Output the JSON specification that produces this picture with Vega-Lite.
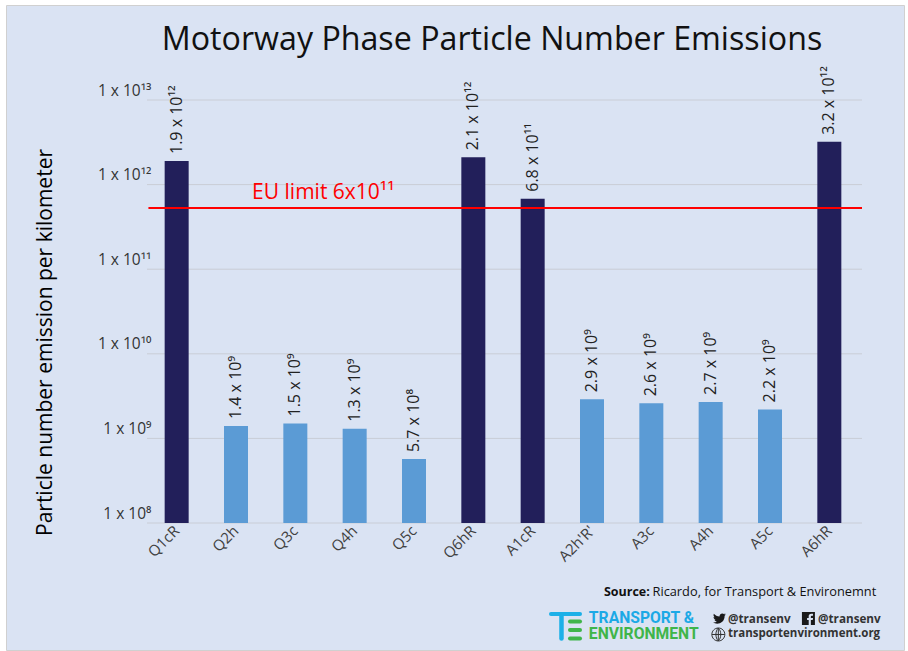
{"$schema":"https://vega.github.io/schema/vega-lite/v6.json","width":898,"height":645,"autosize":"none","padding":{"left":6,"top":5,"right":4,"bottom":1},"background":"#ffffff","view":{"fill":"#DAE3F3","stroke":"#d0d0d0"},"title":{"text":"Motorway Phase Particle Number Emissions","font":"Open Sans","fontSize":32.2,"fontWeight":"normal","color":"#111111","anchor":"middle","dx":37,"offset":-52},
"datasets":{"bars":[{"phase":"Q1cR","value":1.9e12,"label":"1.9 x 10¹²","group":"high"},{"phase":"Q2h","value":1.4e9,"label":"1.4 x 10⁹","group":"low"},{"phase":"Q3c","value":1.5e9,"label":"1.5 x 10⁹","group":"low"},{"phase":"Q4h","value":1.3e9,"label":"1.3 x 10⁹","group":"low"},{"phase":"Q5c","value":5.7e8,"label":"5.7 x 10⁸","group":"low"},{"phase":"Q6hR","value":2.1e12,"label":"2.1 x 10¹²","group":"high"},{"phase":"A1cR","value":6.8e11,"label":"6.8 x 10¹¹","group":"high"},{"phase":"A2h'R'","value":2.9e9,"label":"2.9 x 10⁹","group":"low"},{"phase":"A3c","value":2.6e9,"label":"2.6 x 10⁹","group":"low"},{"phase":"A4h","value":2.7e9,"label":"2.7 x 10⁹","group":"low"},{"phase":"A5c","value":2.2e9,"label":"2.2 x 10⁹","group":"low"},{"phase":"A6hR","value":3.2e12,"label":"3.2 x 10¹²","group":"high"}],"grid":[{"g":1e8,"from":0,"to":1},{"g":1e9,"from":0,"to":1},{"g":1e10,"from":0,"to":1},{"g":1e11,"from":0,"to":1},{"g":1e12,"from":0,"to":1},{"g":1e13,"from":0,"to":1}]},
"resolve":{"scale":{"x":"independent"},"axis":{"x":"independent"}},
"layer":[
{"data":{"name":"grid"},"mark":{"type":"rule","color":"#C9CDD6","strokeWidth":1},"encoding":{"x":{"field":"from","type":"quantitative","axis":null,"scale":{"domain":[0,1],"range":[141,856]}},"x2":{"field":"to"},"y":{"field":"g","type":"quantitative","scale":{"type":"log","domain":[1e8,1e13],"range":[518,95]},"axis":{"title":"Particle number emission per kilometer","titleFont":"Open Sans","titleFontSize":21,"titleFontWeight":"normal","titleColor":"#000000","titleX":-92,"titleY":337,"offset":-141,"grid":false,"domain":false,"ticks":false,"values":[1e8,1e9,1e10,1e11,1e12,1e13],"labelExpr":"{'8':'1 x 10⁸','9':'1 x 10⁹','10':'1 x 10¹⁰','11':'1 x 10¹¹','12':'1 x 10¹²','13':'1 x 10¹³'}[round(log(datum.value)/LN10)]","labelFont":"Open Sans","labelFontSize":15.5,"labelColor":"#333333","labelPadding":-4,"labelOffset":-10}}}},
{"data":{"name":"bars"},"mark":{"type":"bar","size":24},"encoding":{"x":{"field":"phase","type":"nominal","sort":null,"scale":{"type":"band","range":[141,853],"padding":0},"axis":{"title":null,"domain":false,"ticks":false,"offset":-127,"labelAngle":-45,"labelAlign":"right","labelBaseline":"middle","labelFont":"Open Sans","labelFontSize":15,"labelColor":"#404040","labelPadding":5}},"y":{"field":"value","type":"quantitative","stack":null},"y2":{"datum":1e8},"color":{"field":"group","type":"nominal","legend":null,"scale":{"domain":["high","low"],"range":["#221F5A","#5B9BD5"]}}}},
{"data":{"name":"bars"},"mark":{"type":"text","angle":270,"align":"left","baseline":"middle","font":"Open Sans","fontSize":16,"color":"#222222","dx":7},"encoding":{"x":{"field":"phase","type":"nominal","sort":null,"scale":{"type":"band","range":[141,853],"padding":0},"axis":null},"y":{"field":"value","type":"quantitative","stack":null},"text":{"field":"label"}}},
{"data":{"values":[{"limit":5.3e11,"from":0.002,"to":1}]},"mark":{"type":"rule","color":"#FF0000","strokeWidth":2},"encoding":{"x":{"field":"from","type":"quantitative","axis":null,"scale":{"domain":[0,1],"range":[141,856]}},"x2":{"field":"to"},"y":{"field":"limit","type":"quantitative"}}},
{"data":{"values":[{"limit":5.3e11,"note":"EU limit 6x10¹¹","at":0.147}]},"mark":{"type":"text","align":"left","baseline":"middle","font":"Open Sans","fontSize":21,"color":"#FF0000","dy":-15},"encoding":{"x":{"field":"at","type":"quantitative","axis":null,"scale":{"domain":[0,1],"range":[141,856]}},"y":{"field":"limit","type":"quantitative"},"text":{"field":"note"}}},
{"data":{"values":[{}]},"mark":{"type":"text","align":"left","baseline":"middle","font":"Open Sans","fontSize":12.5,"fontWeight":"bold","color":"#111111"},"encoding":{"x":{"datum":0.639,"type":"quantitative","axis":null,"scale":{"domain":[0,1],"range":[141,856]}},"y":{"datum":1.53e7,"type":"quantitative"},"text":{"value":"Source:"}}},
{"data":{"values":[{}]},"mark":{"type":"text","align":"left","baseline":"middle","font":"Open Sans","fontSize":12.8,"color":"#111111"},"encoding":{"x":{"datum":0.707,"type":"quantitative","axis":null,"scale":{"domain":[0,1],"range":[141,856]}},"y":{"datum":1.53e7,"type":"quantitative"},"text":{"value":"Ricardo, for Transport & Environemnt"}}},
{"data":{"values":[{}]},"mark":{"type":"rule","color":"#1CB0E8","strokeWidth":4,"strokeCap":"round"},"encoding":{"x":{"datum":0.565,"type":"quantitative","axis":null,"scale":{"domain":[0,1],"range":[141,856]}},"x2":{"datum":0.6056},"y":{"datum":8.4e6,"type":"quantitative"}}},
{"data":{"values":[{}]},"mark":{"type":"rule","color":"#1CB0E8","strokeWidth":4.5,"strokeCap":"round"},"encoding":{"x":{"datum":0.5797,"type":"quantitative","axis":null,"scale":{"domain":[0,1],"range":[141,856]}},"y":{"datum":7.96e6,"type":"quantitative"},"y2":{"datum":4.3e6}}},
{"data":{"values":[{}]},"mark":{"type":"rule","color":"#3FB54A","strokeWidth":4,"strokeCap":"round"},"encoding":{"x":{"datum":0.5916,"type":"quantitative","axis":null,"scale":{"domain":[0,1],"range":[141,856]}},"x2":{"datum":0.6056},"y":{"datum":6.85e6,"type":"quantitative"}}},
{"data":{"values":[{}]},"mark":{"type":"rule","color":"#3FB54A","strokeWidth":4,"strokeCap":"round"},"encoding":{"x":{"datum":0.5916,"type":"quantitative","axis":null,"scale":{"domain":[0,1],"range":[141,856]}},"x2":{"datum":0.6056},"y":{"datum":5.43e6,"type":"quantitative"}}},
{"data":{"values":[{}]},"mark":{"type":"rule","color":"#3FB54A","strokeWidth":4,"strokeCap":"round"},"encoding":{"x":{"datum":0.5916,"type":"quantitative","axis":null,"scale":{"domain":[0,1],"range":[141,856]}},"x2":{"datum":0.6056},"y":{"datum":4.31e6,"type":"quantitative"}}},
{"data":{"values":[{}]},"mark":{"type":"text","align":"left","baseline":"middle","font":"Roboto","fontSize":15.7,"fontWeight":"bold","color":"#1CA9E6"},"encoding":{"x":{"datum":0.618,"type":"quantitative","axis":null,"scale":{"domain":[0,1],"range":[141,856]}},"y":{"datum":7.5e6,"type":"quantitative"},"text":{"value":"TRANSPORT &"}}},
{"data":{"values":[{}]},"mark":{"type":"text","align":"left","baseline":"middle","font":"Roboto","fontSize":15.7,"fontWeight":"bold","color":"#3FB54A"},"encoding":{"x":{"datum":0.618,"type":"quantitative","axis":null,"scale":{"domain":[0,1],"range":[141,856]}},"y":{"datum":4.87e6,"type":"quantitative"},"text":{"value":"ENVIRONMENT"}}},
{"data":{"values":[{}]},"mark":{"type":"text","align":"left","baseline":"middle","font":"Open Sans","fontSize":11.7,"fontWeight":"bold","color":"#333333"},"encoding":{"x":{"datum":0.8126,"type":"quantitative","axis":null,"scale":{"domain":[0,1],"range":[141,856]}},"y":{"datum":7.43e6,"type":"quantitative"},"text":{"value":"@transenv"}}},
{"data":{"values":[{}]},"mark":{"type":"text","align":"left","baseline":"middle","font":"Open Sans","fontSize":11.7,"fontWeight":"bold","color":"#333333"},"encoding":{"x":{"datum":0.9385,"type":"quantitative","axis":null,"scale":{"domain":[0,1],"range":[141,856]}},"y":{"datum":7.43e6,"type":"quantitative"},"text":{"value":"@transenv"}}},
{"data":{"values":[{}]},"mark":{"type":"text","align":"left","baseline":"middle","font":"Open Sans","fontSize":11.5,"fontWeight":"bold","color":"#333333"},"encoding":{"x":{"datum":0.8126,"type":"quantitative","axis":null,"scale":{"domain":[0,1],"range":[141,856]}},"y":{"datum":4.87e6,"type":"quantitative"},"text":{"value":"transportenvironment.org"}}},
{"data":{"values":[{}]},"mark":{"type":"point","filled":true,"size":1.17,"color":"#1A1A1A","opacity":1,"shape":"M24 4.6L21 5.3L23.3 2.6L20.2 3.8C18 1.5 12 2.5 12 8.3C8 8 4 6 1.6 3.2C0.5 5.5 1 8 3.2 9.7L1 9.1C1 11.5 3 13.5 5 14L2.7 14.1C3.5 16 5.5 17.4 7.5 17.5C5.5 19 3 19.8 0 19.6C8 24.5 21.5 21 21.5 7Z"},"encoding":{"x":{"datum":0.7916,"type":"quantitative","axis":null,"scale":{"domain":[0,1],"range":[141,856]}},"y":{"datum":8.87e6,"type":"quantitative"}}},
{"data":{"values":[{}]},"mark":{"type":"point","filled":true,"size":1.17,"color":"#1A1A1A","opacity":1,"shape":"M0 0H24V24H16.5V15H20L20.5 11H16.5V8.5C16.5 7.3 17 6.8 18.2 6.8H20.5V3.2H17.5C14 3.2 12.5 5.2 12.5 8V11H9.5V15H12.5V24H0Z"},"encoding":{"x":{"datum":0.916,"type":"quantitative","axis":null,"scale":{"domain":[0,1],"range":[141,856]}},"y":{"datum":8.87e6,"type":"quantitative"}}},
{"data":{"values":[{}]},"mark":{"type":"point","filled":false,"size":1.17,"color":"#333333","opacity":1,"strokeWidth":1,"shape":"M24 12A12 12 0 1 1 0 12A12 12 0 1 1 24 12M0 12H24M12 0V24M12 0C6 6 6 18 12 24M12 0C18 6 18 18 12 24"},"encoding":{"x":{"datum":0.79,"type":"quantitative","axis":null,"scale":{"domain":[0,1],"range":[141,856]}},"y":{"datum":5.74e6,"type":"quantitative"}}}
]}
